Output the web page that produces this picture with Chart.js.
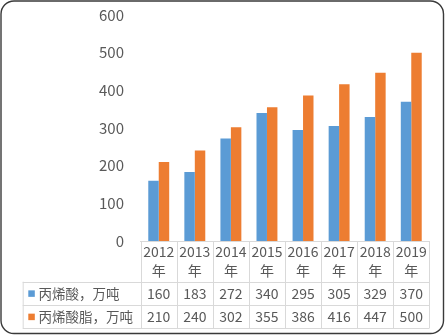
<!DOCTYPE html>
<html>
<head>
<meta charset="utf-8">
<script src="https://cdn.jsdelivr.net/npm/chart.js@4/dist/chart.umd.min.js"></script>
<style>
  html, body { margin: 0; padding: 0; background: #fff; }
  canvas { display: block; }
</style>
</head>
<body>
<canvas id="c" width="445" height="336"></canvas>
<script>
// Annual output, 10k tonnes
const years = ['2012', '2013', '2014', '2015', '2016', '2017', '2018', '2019'];
const yearSuffix = '年';
const acrylicAcid = [160, 183, 272, 340, 295, 305, 329, 370];
const acrylateEster = [210, 240, 302, 355, 386, 416, 447, 500];
const seriesNames = ['丙烯酸，万吨', '丙烯酸脂，万吨'];
const yMin = 0, yMax = 600, yStep = 100;

const BLUE = '#5B9BD5';
const ORANGE = '#ED7D31';
const TEXT = '#595959';
const GRID = '#D9D9D9';
const FONT = "'Liberation Sans Narrow', 'Noto Sans CJK SC', sans-serif";
const CJK = "'Noto Sans CJK SC', sans-serif";

// Data table drawn under the category axis, plus the rounded frame
const dataTable = {
  id: 'dataTable',
  afterDraw(chart) {
    const ctx = chart.ctx;
    const area = chart.chartArea;
    const xs = chart.scales.x;
    const n = years.length;
    const colW = (area.right - area.left) / n;
    const headTop = area.bottom;
    const rowTop = area.bottom + 40.7;
    const rowH = 23.3;
    const tableLeft = 22.7;
    const rows = [
      { name: seriesNames[0], color: BLUE, values: acrylicAcid },
      { name: seriesNames[1], color: ORANGE, values: acrylateEster }
    ];

    ctx.save();
    ctx.strokeStyle = GRID;
    ctx.lineWidth = 1;
    ctx.beginPath();
    // column separators
    for (let i = 0; i <= n; i++) {
      const x = Math.round(area.left + i * colW) + 0.5;
      ctx.moveTo(x, headTop);
      ctx.lineTo(x, rowTop + rows.length * rowH);
    }
    ctx.moveTo(tableLeft + 0.5, rowTop);
    ctx.lineTo(tableLeft + 0.5, rowTop + rows.length * rowH);
    // row separators
    for (let r = 0; r <= rows.length; r++) {
      const y = Math.round(rowTop + r * rowH) + 0.5;
      ctx.moveTo(tableLeft, y);
      ctx.lineTo(area.right, y);
    }
    ctx.stroke();

    ctx.textBaseline = 'middle';
    rows.forEach((row, r) => {
      const cy = rowTop + r * rowH + rowH / 2;
      ctx.fillStyle = row.color;
      ctx.fillRect(28.3, cy - 3, 6.5, 6.5);
      ctx.fillStyle = TEXT;
      ctx.textAlign = 'left';
      ctx.font = '13.5px ' + CJK;
      ctx.fillText(row.name, 38.5, cy + 0.5);
      ctx.textAlign = 'center';
      ctx.font = '14px ' + FONT;
      row.values.forEach((v, i) => {
        ctx.fillText(String(v), xs.getPixelForValue(i), cy + 0.5);
      });
    });

    // outer rounded frame
    ctx.strokeStyle = '#3A3A3A';
    ctx.lineWidth = 1.4;
    ctx.beginPath();
    ctx.roundRect(1, 1, 442.5, 332.5, 13);
    ctx.stroke();
    ctx.restore();
  }
};

new Chart(document.getElementById('c'), {
  type: 'bar',
  data: {
    labels: years.map(y => [y, yearSuffix]),
    datasets: [
      { label: seriesNames[0], data: acrylicAcid, backgroundColor: BLUE },
      { label: seriesNames[1], data: acrylateEster, backgroundColor: ORANGE }
    ]
  },
  options: {
    responsive: false,
    animation: false,
    devicePixelRatio: 1,
    layout: { padding: { left: 0, right: 15.7, top: 15, bottom: 0 } },
    datasets: { bar: { categoryPercentage: 0.58, barPercentage: 1 } },
    plugins: { legend: { display: false }, tooltip: { enabled: false } },
    scales: {
      x: {
        grid: { display: false, drawTicks: false },
        border: { display: true, color: GRID, width: 1 },
        ticks: {
          color: TEXT,
          font: { family: FONT, size: 14, lineHeight: 19 / 14 },
          padding: 1,
          maxRotation: 0,
          autoSkip: false
        },
        afterFit(scale) {
          scale.height = 95;
          scale.paddingLeft = 0;
          scale.paddingRight = 0;
        }
      },
      y: {
        min: yMin,
        max: yMax,
        grid: { display: false, drawTicks: false },
        border: { display: false },
        ticks: {
          stepSize: yStep,
          color: TEXT,
          font: { family: FONT, size: 15 },
          padding: 16.7
        },
        afterFit(scale) {
          scale.width = 140.7;
          scale.paddingTop = 0;
          scale.paddingBottom = 0;
        }
      }
    }
  },
  plugins: [dataTable]
});
</script>
</body>
</html>
